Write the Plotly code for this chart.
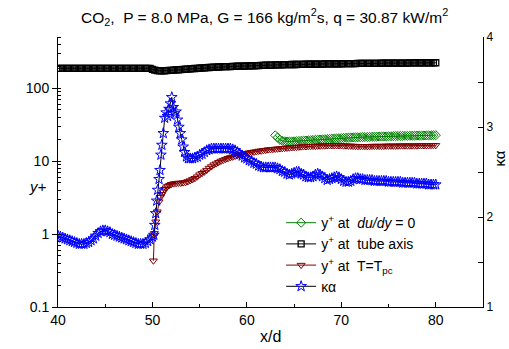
import plotly.graph_objects as go

# ---- data ----
# common sampling grid x/d = 40 ... 80 (step 0.25)
x_grid = [40.0, 40.25, 40.5, 40.75, 41.0, 41.25, 41.5, 41.75, 42.0, 42.25, 42.5, 42.75, 43.0, 43.25, 43.5, 43.75,
          44.0, 44.25, 44.5, 44.75, 45.0, 45.25, 45.5, 45.75, 46.0, 46.25, 46.5, 46.75, 47.0, 47.25, 47.5, 47.75,
          48.0, 48.25, 48.5, 48.75, 49.0, 49.25, 49.5, 49.75, 50.0, 50.25, 50.5, 50.75, 51.0, 51.25, 51.5, 51.75,
          52.0, 52.25, 52.5, 52.75, 53.0, 53.25, 53.5, 53.75, 54.0, 54.25, 54.5, 54.75, 55.0, 55.25, 55.5, 55.75,
          56.0, 56.25, 56.5, 56.75, 57.0, 57.25, 57.5, 57.75, 58.0, 58.25, 58.5, 58.75, 59.0, 59.25, 59.5, 59.75,
          60.0, 60.25, 60.5, 60.75, 61.0, 61.25, 61.5, 61.75, 62.0, 62.25, 62.5, 62.75, 63.0, 63.25, 63.5, 63.75,
          64.0, 64.25, 64.5, 64.75, 65.0, 65.25, 65.5, 65.75, 66.0, 66.25, 66.5, 66.75, 67.0, 67.25, 67.5, 67.75,
          68.0, 68.25, 68.5, 68.75, 69.0, 69.25, 69.5, 69.75, 70.0, 70.25, 70.5, 70.75, 71.0, 71.25, 71.5, 71.75,
          72.0, 72.25, 72.5, 72.75, 73.0, 73.25, 73.5, 73.75, 74.0, 74.25, 74.5, 74.75, 75.0, 75.25, 75.5, 75.75,
          76.0, 76.25, 76.5, 76.75, 77.0, 77.25, 77.5, 77.75, 78.0, 78.25, 78.5, 78.75, 79.0, 79.25, 79.5, 79.75,
          80.0]

# y+ at tube axis (on x_grid, 40 ... 80)
yplus_axis = [186, 186, 186, 186, 186, 186, 186, 186, 186, 186, 186, 186, 186, 186, 186, 186,
              186, 186, 186, 186, 186, 186, 186, 186, 186, 186, 186, 186, 186, 186, 186, 186,
              186, 186, 186, 186, 186, 186, 186, 186,
              180, 176, 173, 172, 172, 172, 173, 174, 175, 176, 177, 178, 179, 180, 181, 182,
              183, 184, 185, 186, 187, 188, 189, 190, 191, 192, 193, 193, 194, 195, 196, 196,
              197, 197, 198, 198, 199, 199, 200, 200, 201, 201, 202, 202, 203, 203, 204, 204,
              205, 205, 206, 206, 207, 207, 208, 208, 209, 209, 209, 210, 210, 210, 211, 211,
              211, 212, 212, 212, 212, 213, 213, 213, 213, 214, 214, 214, 214, 215, 215, 215,
              215, 216, 216, 216, 216, 216, 216, 217, 217, 217, 217, 218, 218, 218, 218, 218,
              218, 219, 219, 219, 219, 219, 219, 220, 220, 220, 220, 220, 220, 221, 221, 221,
              221, 221, 221, 222, 222, 222, 222, 222, 222]

# y+ at du/dy = 0 (on x_grid from 63.0 to 80)
yplus_dudy = [22.5, 21.0, 19.5, 18.9, 18.6, 18.5, 18.5, 18.5, 18.6, 18.7, 18.8, 18.9, 19.0, 19.1, 19.2, 19.3,
              19.4, 19.5, 19.6, 19.7, 19.8, 19.9, 20.0, 20.1, 20.2, 20.3, 20.4, 20.5, 20.6, 20.7, 20.8, 20.9,
              21.0, 21.05, 21.1, 21.15, 21.2, 21.25, 21.3, 21.35, 21.4, 21.45, 21.5, 21.55, 21.6, 21.65, 21.7,
              21.75, 21.8, 21.85, 21.9, 21.95, 22.0, 22.05, 22.1, 22.1, 22.1, 22.15, 22.2, 22.25, 22.3, 22.3,
              22.3, 22.35, 22.4, 22.45, 22.5, 22.55, 22.6]

# y+ at T = Tpc : start of the heated section (fine points) then x_grid from 55.0 to 80
x_tpc_start = [50.1, 50.2, 50.35, 50.5, 50.7, 50.85, 51.0, 51.15, 51.3, 51.45, 51.6, 51.8, 52.0, 52.25,
               52.5, 52.75, 53.0, 53.25, 53.5, 53.75, 54.0, 54.25, 54.5, 54.75]
yplus_tpc_start = [0.43, 1.02, 1.47, 2.02, 2.77, 3.2, 3.5, 3.8, 4.1, 4.3, 4.5, 4.65, 4.8, 4.9,
                   4.95, 5.0, 5.0, 5.05, 5.1, 5.25, 5.4, 5.6, 5.8, 6.1]
yplus_tpc_rest = [6.5, 6.8, 7.1, 7.5, 8.0, 8.4, 8.9, 9.2, 9.6, 10.0, 10.3, 10.6, 10.9, 11.2, 11.4, 11.7,
                  11.9, 12.2, 12.4, 12.6, 12.8, 13.0, 13.2, 13.3, 13.5, 13.7, 13.8, 14.0, 14.1, 14.3, 14.4, 14.5,
                  14.6, 14.7, 14.8, 14.9, 15.0, 15.1, 15.2, 15.3, 15.4, 15.5, 15.6, 15.7, 15.8, 15.8, 15.9, 15.9,
                  16.0, 16.0, 16.1, 16.1, 16.2, 16.2, 16.3, 16.3, 16.3, 16.3, 16.3, 16.3, 16.3, 16.2, 16.2, 16.1,
                  16.1, 16.0, 16.0, 15.9, 15.9, 15.9, 15.9, 15.9, 15.9, 16.0, 16.0, 16.0, 16.0, 16.0, 16.0, 16.1,
                  16.1, 16.1, 16.1, 16.1, 16.1, 16.2, 16.2, 16.2, 16.2, 16.2, 16.2, 16.2, 16.2, 16.3, 16.3, 16.3,
                  16.3, 16.3, 16.4, 16.4, 16.4]

# kappa*alpha (right axis): x_grid 40 ... 49.75, peak region (fine points), x_grid 54.0 ... 80
ka_inlet = [1.79, 1.78, 1.77, 1.76, 1.75, 1.74, 1.73, 1.72, 1.71, 1.70, 1.70, 1.70, 1.71, 1.72, 1.74, 1.76,
            1.79, 1.82, 1.84, 1.85, 1.85, 1.84, 1.83, 1.81, 1.80, 1.79, 1.78, 1.77, 1.76, 1.75, 1.74, 1.73,
            1.72, 1.71, 1.70, 1.70, 1.70, 1.71, 1.73, 1.75]
x_ka_peak = [50.0, 50.15, 50.25, 50.35, 50.45, 50.55, 50.7, 50.8, 50.9, 51.0, 51.15, 51.3, 51.45, 51.6,
             51.75, 51.9, 52.05, 52.2, 52.35, 52.5, 52.65, 52.8, 52.95, 53.1, 53.25, 53.4, 53.6, 53.8]
ka_peak = [1.78, 1.80, 1.91, 2.04, 2.18, 2.30, 2.42, 2.52, 2.69, 2.80, 2.93, 3.10, 3.16, 3.12,
           3.20, 3.26, 3.33, 3.22, 3.15, 3.17, 3.08, 3.00, 2.93, 2.86, 2.78, 2.72, 2.67, 2.65]
ka_rest = [2.65, 2.65, 2.66, 2.67, 2.69, 2.70, 2.72, 2.74, 2.75, 2.76, 2.76, 2.76, 2.76, 2.76, 2.76, 2.76,
           2.76, 2.76, 2.75, 2.74, 2.72, 2.70, 2.68, 2.66, 2.65, 2.63, 2.62, 2.60, 2.59, 2.57, 2.56, 2.55,
           2.55, 2.55, 2.55, 2.55, 2.55, 2.54, 2.53, 2.51, 2.50, 2.48, 2.47, 2.48, 2.49, 2.50, 2.50, 2.48,
           2.47, 2.45, 2.44, 2.44, 2.45, 2.47, 2.48, 2.47, 2.45, 2.43, 2.41, 2.42, 2.43, 2.44, 2.45, 2.44,
           2.42, 2.40, 2.39, 2.39, 2.40, 2.42, 2.43, 2.43, 2.42, 2.42, 2.41, 2.41, 2.41, 2.41, 2.40, 2.40,
           2.40, 2.40, 2.40, 2.40, 2.39, 2.39, 2.39, 2.39, 2.39, 2.39, 2.38, 2.38, 2.38, 2.38, 2.38, 2.38,
           2.37, 2.37, 2.37, 2.37, 2.37, 2.36, 2.36, 2.36, 2.36]

title_text = "CO<sub>2</sub>,  P = 8.0 MPa, G = 166 kg/m<sup>2</sup>s, q = 30.87 kW/m<sup>2</sup>"
names = ["y<sup>+</sup> at\u00a0 <i>du/dy</i> = 0",
         "y<sup>+</sup> at\u00a0 tube axis",
         "y<sup>+</sup> at\u00a0 T=T<sub>pc</sub>",
         "\u03ba\u03b1"]

# ---- assemble series from the arrays ----
i63 = x_grid.index(63.0)
i55 = x_grid.index(55.0)
i50 = x_grid.index(50.0)
i54 = x_grid.index(54.0)
x_dudy = x_grid[i63:]
x_tpc = x_tpc_start + x_grid[i55:]
yplus_tpc = yplus_tpc_start + yplus_tpc_rest
x_ka = x_grid[:i50] + x_ka_peak + x_grid[i54:]
kappa_alpha = ka_inlet + ka_peak + ka_rest

GREEN = "rgb(0,128,0)"
DRED = "rgb(128,0,0)"
BLUE = "rgb(0,0,255)"
FONT = "Liberation Sans, Arial, sans-serif"

fig = go.Figure()
fig.add_trace(go.Scatter(x=x_dudy, y=yplus_dudy, name=names[0], mode="lines+markers",
                         line=dict(color=GREEN, width=1),
                         marker=dict(symbol="diamond-open", size=7, color=GREEN, line=dict(width=1))))
fig.add_trace(go.Scatter(x=x_grid, y=yplus_axis, name=names[1], mode="lines+markers",
                         line=dict(color="black", width=1),
                         marker=dict(symbol="square-open", size=6, color="black", line=dict(width=1.3))))
fig.add_trace(go.Scatter(x=x_tpc, y=yplus_tpc, name=names[2], mode="lines+markers",
                         line=dict(color=DRED, width=1),
                         marker=dict(symbol="triangle-down-open", size=7, color=DRED, line=dict(width=1))))
fig.add_trace(go.Scatter(x=x_ka, y=kappa_alpha, name=names[3], mode="lines+markers", yaxis="y2",
                         line=dict(color="black", width=1),
                         marker=dict(symbol="star-open", size=8, color=BLUE, line=dict(width=1))))

fig.update_layout(
    width=509, height=349,
    margin=dict(l=58, r=26, t=37, b=42),
    paper_bgcolor="white", plot_bgcolor="white",
    font=dict(family=FONT, size=13, color="black"),
    showlegend=True,
    legend=dict(x=0.525, y=0.37, xanchor="left", yanchor="top", bgcolor="rgba(0,0,0,0)",
                font=dict(size=14), tracegroupgap=0, itemwidth=30),
    xaxis=dict(range=[40, 85], dtick=10, tick0=40, showline=True, linecolor="black", linewidth=1,
               ticks="inside", ticklen=5, tickcolor="black", showgrid=False, zeroline=False,
               minor=dict(dtick=5, ticks="inside", ticklen=3, tickcolor="black"),
               tickfont=dict(size=14)),
    yaxis=dict(type="log", range=[-1, 2.699], dtick=1, showline=True, linecolor="black", linewidth=1,
               ticks="outside", ticklen=5, tickcolor="black", showgrid=False, zeroline=False,
               minor=dict(ticks="inside", ticklen=3, tickcolor="black", showgrid=False),
               tickfont=dict(size=14)),
    yaxis2=dict(range=[1, 4], dtick=1, overlaying="y", side="right", showline=True, linecolor="black",
                linewidth=1, ticks="inside", ticklen=5, tickcolor="black", showgrid=False, zeroline=False,
                minor=dict(dtick=0.5, ticks="inside", ticklen=5, tickcolor="black"),
                tickfont=dict(size=12)),
    annotations=[
        dict(text=title_text, xref="paper", yref="paper", x=0.487, y=1.0, yshift=20, showarrow=False,
             font=dict(size=15.5), xanchor="center", yanchor="middle"),
        dict(text="x/d", xref="paper", yref="paper", x=0.5, y=0, yshift=-29, showarrow=False,
             font=dict(size=16), xanchor="center", yanchor="middle"),
        dict(text="<i>y+</i>", xref="paper", yref="paper", x=0, xshift=-20, y=0.448, showarrow=False,
             font=dict(size=15), xanchor="center", yanchor="middle"),
        dict(text="\u03ba\u03b1", xref="paper", yref="paper", x=1, xshift=16, y=0.55, showarrow=False,
             font=dict(size=15), textangle=-90, xanchor="center", yanchor="middle"),
    ],
)

fig.write_html("out.html", config={"displayModeBar": False},
               post_script="document.body.style.margin='0px';")
